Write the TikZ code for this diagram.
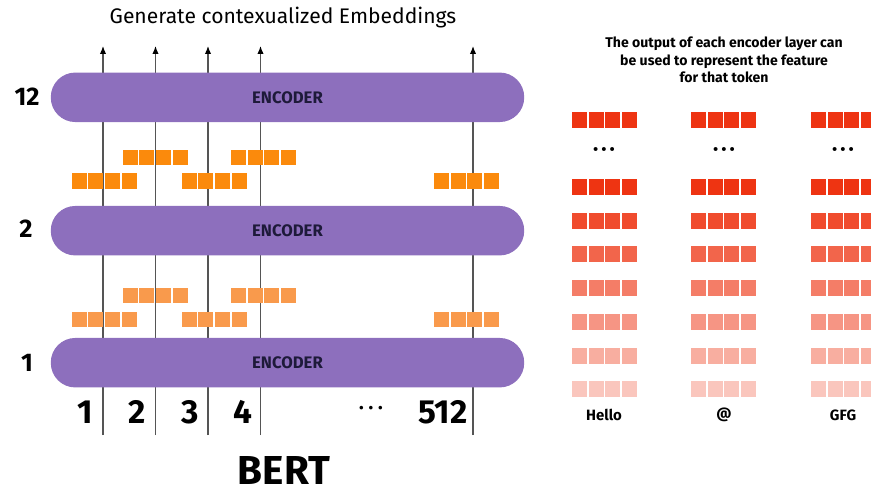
\documentclass[tikz,border=0pt]{standalone}
\usepackage{fontspec}
\setmainfont{Fira Sans}
\usetikzlibrary{positioning, arrows.meta}
\definecolor{encpurple}{HTML}{8D6FBD}
\definecolor{encnavy}{HTML}{1E1A3A}
\definecolor{orangetop}{HTML}{FB8A0C}
\definecolor{orangelow}{HTML}{F99A4C}
\definecolor{featred}{HTML}{EE3412}
\definecolor{linegray}{HTML}{555555}

\begin{document}
\begin{tikzpicture}[
    x=0.02cm, y=-0.02cm,
    encoder/.style={rectangle, rounded corners=0.49cm, fill=encpurple, minimum width=9.47cm, minimum height=0.99cm, text=encnavy, font=\bfseries\fontsize{9.5}{11}\selectfont},
    layer/.style={font=\bfseries\fontsize{14.5}{17}\selectfont},
    token/.style={font=\bfseries\fontsize{19}{22}\selectfont},
    word/.style={font=\bfseries\fontsize{8}{9.9}\selectfont},
    stream/.style={linegray, line width=0.7pt, -{Latex[color=black, length=4.5pt, width=3.6pt]}}
]
    \useasboundingbox (0,0) rectangle (871,493);

    \node[font=\fontsize{12}{14}\selectfont] (title) at (283,18) {Generate contexualized Embeddings};

    % token streams
    \foreach \i/\x in {1/103, 2/155.5, 3/208, 4/260.5, 5/473} {
        \coordinate (in\i) at (\x,435);
        \coordinate (out\i) at (\x,46);
        \draw[stream] (in\i) -- (out\i);
    }

    \node[encoder] (enc12) at (287.5,97.3) {ENCODER};
    \node[encoder] (enc2) at (287.5,230.7) {ENCODER};
    \node[encoder] (enc1) at (287.5,362.7) {ENCODER};

    \node[layer] (l12) at (27,97) {12};
    \node[layer] (l2) at (26,229) {2};
    \node[layer] (l1) at (27,363) {1};

    % hidden vectors between the layers
    \foreach \x/\y in {122.7/157.5, 231/157.5, 71.7/181, 181.7/181, 434/181}
        \foreach \k in {0,...,3}
            \fill[orangetop] (\x+\k*16.7, \y-7.5) rectangle ++(15,15);
    \foreach \x/\y in {122.7/295, 231/295, 71.7/319.5, 181.7/319.5, 434/319.5}
        \foreach \k in {0,...,3}
            \fill[orangelow] (\x+\k*16.7, \y-7.5) rectangle ++(15,15);

    \node[token] (t1) at (85,412) {1};
    \node[token] (t2) at (137,412) {2};
    \node[token] (t3) at (190,412) {3};
    \node[token] (t4) at (243,412) {4};
    \node[font=\fontsize{9}{10}\selectfont] (tdots) at (371,410) {\textbullet\hspace{2.5pt}\textbullet\hspace{2.5pt}\textbullet};
    \node[token] (t512) at (443,412) {512};

    \node[font=\bfseries\fontsize{23}{28}\selectfont, inner sep=0pt] (bert) at (284,470) {BERT};

    % features per token
    \node[word, align=center] (caption) at (724,60) {The output of each encoder layer can\\be used to represent the feature\\for that token};

    \foreach \y/\shade in {120/100, 187/100, 221/88, 254/76, 288/64, 322/52, 356/40, 389/28}
        \foreach \x in {572, 691, 811}
            \foreach \k in {0,...,3}
                \fill[featred!\shade] (\x+\k*16.7, \y-8) rectangle ++(15,16);

    \foreach \x/\n in {604/a, 724/b, 843/c}
        \node[font=\fontsize{10}{11}\selectfont] (dots\n) at (\x,152) {\textbullet\hspace{1.5pt}\textbullet\hspace{1.5pt}\textbullet};

    \node[word, font=\bfseries\fontsize{8.5}{10}\selectfont] (hello) at (604,415) {Hello};
    \node[word, font=\bfseries\fontsize{8.5}{10}\selectfont] (at) at (724,415) {@};
    \node[word, font=\bfseries\fontsize{8.5}{10}\selectfont] (gfg) at (843,415) {GFG};
\end{tikzpicture}
\end{document}
